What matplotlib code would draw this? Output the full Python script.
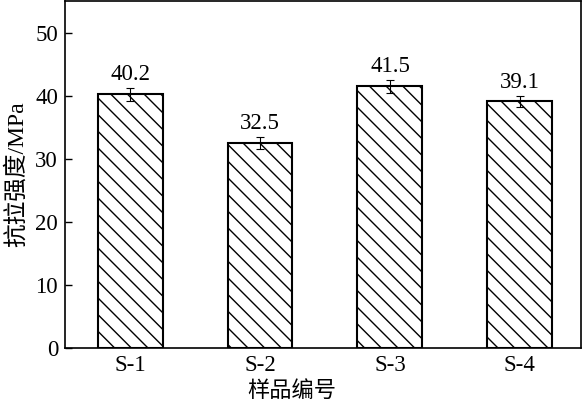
import matplotlib
matplotlib.use('Agg')
import matplotlib.pyplot as plt

samples = ['S-1', 'S-2', 'S-3', 'S-4']
strength = [40.2, 32.5, 41.5, 39.1]
errors = [1.0, 1.0, 1.0, 0.9]
yticks = [0, 10, 20, 30, 40, 50]

plt.rcParams['font.family'] = ['Liberation Serif', 'Noto Sans CJK SC']
plt.rcParams['hatch.linewidth'] = 1.0

fig = plt.figure(figsize=(5.86, 4.01), dpi=100)
ax = fig.add_axes([0.111, 0.132, 0.8805, 0.8655])

x = range(len(samples))
ax.bar(x, strength, width=0.5, color='white', edgecolor='black',
       linewidth=1.5, hatch='\\\\')
ax.errorbar(x, strength, yerr=errors, fmt='none', ecolor='black',
            elinewidth=0.8, capsize=3, capthick=0.8)

for xi, v, e in zip(x, strength, errors):
    ax.text(xi, v + e + 0.5, f'{v:.1f}', ha='center', va='bottom', fontsize=16.5)

ax.set_xlim(-0.5, 3.47)
ax.set_ylim(0, 55)
ax.set_xticks(list(x))
ax.set_xticklabels(samples, fontsize=16.5)
ax.set_yticks(yticks)
ax.tick_params(axis='y', direction='in', length=5, labelsize=16.5, width=1, pad=5)
ax.tick_params(axis='x', length=0, pad=5)
for s in ax.spines.values():
    s.set_linewidth(1.2)

ax.set_xlabel('样品编号', fontsize=16, family=['Noto Sans CJK SC'], labelpad=0)
ax.xaxis.set_label_coords(0.44, -0.088)
ax.set_ylabel('抗拉强度/MPa', fontsize=17, labelpad=5)

fig.savefig('out.png', dpi=100)
